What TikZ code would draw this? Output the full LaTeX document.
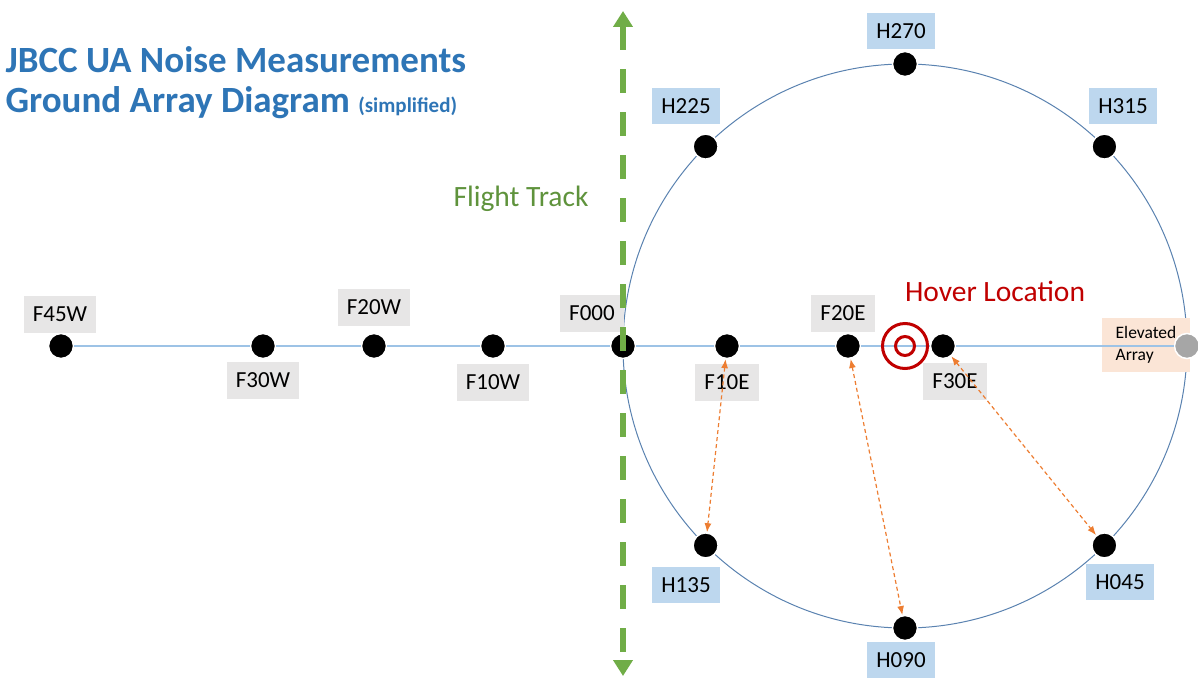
\documentclass[tikz,border=0pt]{standalone}
\usepackage{fontspec}
\setmainfont{Carlito}
\usepackage{xcolor}
\usepackage{tikz}
\usetikzlibrary{arrows.meta}
\definecolor{titleblue}{HTML}{2E75B6}
\definecolor{lineblue}{HTML}{9DC3E6}
\definecolor{ringblue}{HTML}{5A82B0}
\definecolor{lblgrey}{HTML}{E7E6E6}
\definecolor{lblblue}{HTML}{BDD7EE}
\definecolor{lblpeach}{HTML}{FBE5D6}
\definecolor{trackgreen}{HTML}{70AD47}
\definecolor{hoverred}{HTML}{C00000}
\definecolor{rangeorange}{HTML}{ED7D31}
\definecolor{dotgrey}{HTML}{A6A6A6}

\begin{document}
\begin{tikzpicture}[x=1pt, y=-1pt, every node/.style={font=\fontsize{23}{27}\selectfont}, dot/.style={circle, fill=black, draw=white, line width=1.5pt, minimum size=25pt, inner sep=0pt}, flbl/.style={fill=lblgrey, inner xsep=9pt, minimum height=37pt}, hlbl/.style={fill=lblblue, inner xsep=9pt, minimum height=36pt}, feedline/.style={draw=lineblue, line width=1.5pt}, ringline/.style={draw=ringblue, line width=1pt}, trackline/.style={draw=trackgreen, line width=6pt, dash pattern=on 24pt off 19pt, {Triangle[length=16pt,width=19pt]}-{Triangle[length=16pt,width=19pt]}}, rangeline/.style={draw=rangeorange, line width=1.2pt, dash pattern=on 4pt off 3pt, {Latex[length=9pt,width=7pt]}-{Latex[length=9pt,width=7pt]}}]
      \useasboundingbox (0,0) rectangle (1198,677);
      \node[anchor=west, font=\fontsize{37}{40}\selectfont\bfseries, text=titleblue] (title1) at (2,60) {JBCC UA Noise Measurements};
      \node[anchor=west, font=\fontsize{37}{40}\selectfont\bfseries, text=titleblue] (title2) at (2,103) {Ground Array Diagram {\fontsize{21}{24}\selectfont(simplified)}};
      \coordinate (hub) at (905,346);
      \draw[ringline] (hub) circle[radius=282pt];
      \node[fill=lblpeach, align=left, inner xsep=6pt, minimum height=54pt, minimum width=88pt, font=\fontsize{17.5}{22}\selectfont] (larray) at (1146,345) {Elevated\\Array};
      \node[dot] (f45w) at (61,346) {};
      \node[dot] (f30w) at (263,346) {};
      \node[dot] (f20w) at (374,346) {};
      \node[dot] (f10w) at (493,346) {};
      \node[dot] (f000) at (623,346) {};
      \node[dot] (f10e) at (727,346) {};
      \node[dot] (f20e) at (848,346) {};
      \node[dot] (f30e) at (943,346) {};
      \node[dot, fill=dotgrey] (array) at (1187,346) {};
      \draw[feedline] (f45w) -- (f30w);
      \draw[feedline] (f30w) -- (f20w);
      \draw[feedline] (f20w) -- (f10w);
      \draw[feedline] (f10w) -- (f000);
      \draw[feedline] (f000) -- (f10e);
      \draw[feedline] (f10e) -- (f20e);
      \draw[feedline] (f20e) -- (f30e);
      \draw[feedline] (f30e) -- (array);
      \draw[hoverred, line width=3pt] (hub) circle[radius=22.5pt];
      \draw[hoverred, line width=3pt] (hub) circle[radius=9.5pt];
      \foreach \a in {045,090,135,225,270,315}
        \node[dot] (h\a) at ([shift={(\a:282)}]hub) {};
      \node[flbl] (lf45w) at (60,314) {F45W};
      \node[flbl] (lf30w) at (263,380) {F30W};
      \node[flbl] (lf20w) at (374,307) {F20W};
      \node[flbl] (lf10w) at (493,382) {F10W};
      \node[flbl] (lf000) at (592,313) {F000};
      \node[flbl] (lf10e) at (727,382) {F10E};
      \node[flbl] (lf20e) at (843,313) {F20E};
      \node[flbl] (lf30e) at (955,381) {F30E};
      \node[hlbl] (lh270) at (901,31) {H270};
      \node[hlbl] (lh225) at (686,106) {H225};
      \node[hlbl] (lh315) at (1123,106) {H315};
      \node[hlbl] (lh135) at (686,585) {H135};
      \node[hlbl] (lh045) at (1120,582) {H045};
      \node[hlbl] (lh090) at (901,660) {H090};
      \draw[rangeline] (f10e) -- (h135);
      \draw[rangeline] (f20e) -- (h090);
      \draw[rangeline] (f30e) -- (h045);
      \node[text=hoverred, font=\fontsize{29.5}{33}\selectfont] (hover) at (995,291) {Hover Location};
      \node[text=trackgreen!85!black, font=\fontsize{29.5}{33}\selectfont] (track) at (521,199) {Flight Track};
      \coordinate (tracktop) at (623,11);
      \coordinate (trackbot) at (623,676);
      \draw[trackline] (tracktop) -- (trackbot);
    \end{tikzpicture}
\end{document}
